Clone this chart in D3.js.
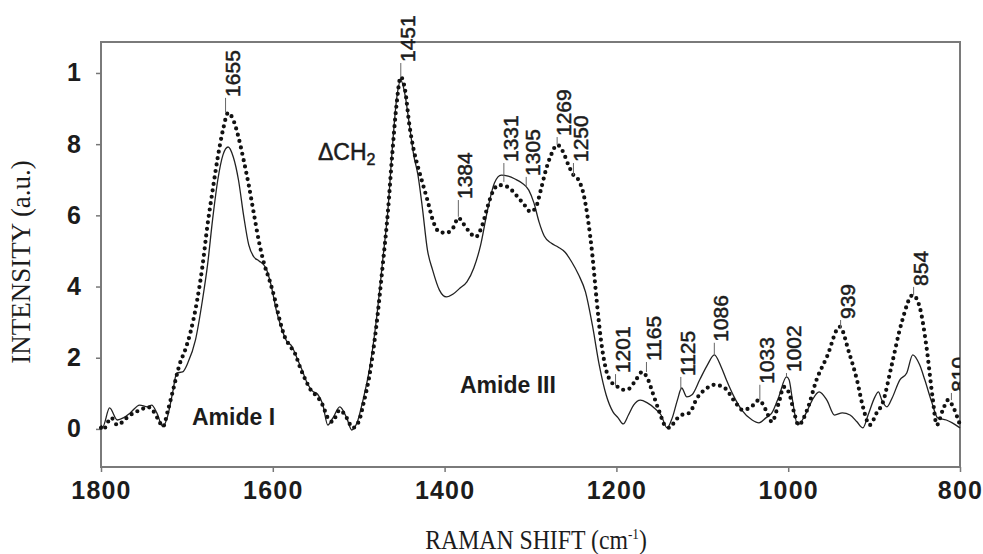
<!DOCTYPE html>
<html>
<head>
<meta charset="utf-8">
<script src="https://cdn.jsdelivr.net/npm/d3@7"></script>
<style>
  html, body { margin: 0; padding: 0; background: #fff; }
  svg { display: block; }
  .axis text { font-family: 'Liberation Sans', Arial, sans-serif; font-weight: bold; font-size: 25px; fill: #1c1c1c; letter-spacing: 1.2px; }
  .axis line { stroke: #777; stroke-width: 1.5; }
  .axis path { display: none; }
  .peak { font-family: 'Liberation Sans', Arial, sans-serif; font-size: 21px; fill: #1c1c1c; stroke: #1c1c1c; stroke-width: 0.5px; }
  .band { font-family: 'Liberation Sans', Arial, sans-serif; font-weight: bold; font-size: 23px; fill: #1c1c1c; }
  .title { font-family: 'Liberation Serif', 'Times New Roman', serif; font-size: 27px; fill: #1c1c1c; }
</style>
</head>
<body>
<svg id="chart" width="983" height="554"></svg>
<script>
// solid trace
const solidShift = [1800, 1798, 1790, 1781, 1774, 1766, 1755, 1746, 1741, 1735, 1728, 1723, 1716, 1712, 1705, 1699, 1690, 1682, 1676, 1670, 1664, 1658, 1652, 1646, 1640, 1634, 1628, 1622, 1616, 1608, 1602, 1596, 1590, 1584, 1578, 1572, 1566, 1560, 1554, 1548, 1542, 1536, 1530, 1522, 1514, 1508, 1502, 1495, 1487, 1479, 1472, 1466, 1461, 1456, 1451, 1446, 1441, 1436, 1431, 1426, 1420, 1414, 1406, 1398, 1390, 1382, 1374, 1366, 1358, 1350, 1342, 1334, 1326, 1318, 1310, 1302, 1296, 1290, 1284, 1276, 1268, 1260, 1252, 1244, 1236, 1228, 1220, 1212, 1204, 1198, 1192, 1186, 1180, 1172, 1164, 1156, 1148, 1141, 1135, 1129, 1124, 1118, 1112, 1103, 1094, 1086, 1078, 1072, 1063, 1054, 1042, 1034, 1026, 1019, 1011, 1002, 999, 995, 989, 979, 972, 964, 955, 946, 937, 928, 920, 913, 907, 899, 895, 891, 885, 879, 870, 862, 855, 847, 841, 833, 826, 816, 809, 800]
const solidValue = [0.11, 0.06, 0.59, 0.25, 0.31, 0.45, 0.67, 0.62, 0.67, 0.45, 0.06, 0.31, 1.10, 1.57, 1.60, 1.85, 2.50, 3.60, 4.60, 5.90, 7.00, 7.70, 7.92, 7.64, 7.00, 6.00, 5.17, 4.83, 4.72, 4.52, 4.04, 3.34, 2.84, 2.47, 2.33, 2.00, 1.66, 1.29, 1.07, 0.98, 0.70, 0.11, 0.31, 0.62, 0.31, -0.03, 0.17, 0.81, 1.74, 3.15, 4.75, 6.15, 7.84, 9.24, 9.80, 9.38, 8.54, 7.70, 7.13, 6.24, 5.03, 4.47, 3.90, 3.71, 3.79, 3.96, 4.13, 4.52, 5.17, 6.15, 6.91, 7.13, 7.10, 7.02, 6.91, 6.71, 6.35, 5.81, 5.42, 5.22, 5.11, 4.97, 4.69, 4.33, 3.85, 2.92, 1.80, 0.96, 0.48, 0.31, 0.14, 0.39, 0.67, 0.81, 0.73, 0.59, 0.39, 0.03, 0.31, 0.81, 1.15, 0.90, 0.96, 1.38, 1.80, 2.08, 1.74, 1.38, 0.90, 0.53, 0.25, 0.17, 0.31, 0.45, 0.90, 1.46, 1.38, 0.81, 0.11, 0.45, 0.81, 1.04, 0.81, 0.39, 0.45, 0.39, 0.20, 0.03, 0.39, 0.90, 1.04, 0.81, 0.62, 0.87, 1.38, 1.57, 2.08, 1.80, 1.38, 0.76, 0.31, 0.25, 0.17, 0.03]

// dotted trace
const dottedShift = [1800, 1798, 1788, 1781, 1770, 1762, 1754, 1746, 1740, 1733, 1728, 1722, 1716, 1708, 1702, 1696, 1688, 1682, 1676, 1670, 1664, 1658, 1652, 1646, 1640, 1634, 1628, 1622, 1616, 1610, 1604, 1598, 1592, 1586, 1580, 1574, 1568, 1562, 1556, 1548, 1542, 1536, 1531, 1522, 1514, 1507, 1500, 1494, 1488, 1480, 1472, 1466, 1461, 1456, 1451, 1446, 1441, 1436, 1431, 1425, 1420, 1413, 1406, 1398, 1390, 1384, 1378, 1371, 1364, 1356, 1350, 1344, 1337, 1330, 1322, 1315, 1307, 1300, 1294, 1288, 1282, 1276, 1269, 1262, 1256, 1250, 1244, 1238, 1233, 1228, 1223, 1218, 1212, 1206, 1200, 1193, 1186, 1178, 1170, 1164, 1157, 1150, 1143, 1138, 1131, 1124, 1115, 1106, 1096, 1086, 1074, 1062, 1053, 1043, 1034, 1026, 1019, 1011, 1005, 999, 993, 988, 978, 967, 955, 940, 929, 920, 913, 905, 897, 890, 880, 868, 855, 847, 839, 832, 827, 820, 814, 808, 802, 800]
const dottedValue = [0.03, -0.03, 0.31, 0.11, 0.31, 0.45, 0.53, 0.62, 0.53, 0.25, 0.06, 0.53, 1.10, 1.85, 2.22, 2.70, 3.62, 4.55, 5.73, 6.71, 7.64, 8.40, 8.88, 8.68, 8.20, 7.56, 6.85, 6.04, 5.25, 4.63, 4.19, 3.68, 3.06, 2.58, 2.33, 2.11, 1.71, 1.38, 1.10, 0.90, 0.67, 0.31, 0.20, 0.53, 0.31, 0.03, 0.20, 0.76, 1.43, 2.78, 4.61, 6.10, 7.70, 9.10, 9.89, 9.52, 8.54, 7.84, 7.36, 6.85, 6.43, 5.81, 5.53, 5.51, 5.65, 5.93, 5.76, 5.53, 5.39, 5.73, 6.24, 6.66, 6.85, 6.83, 6.71, 6.52, 6.29, 6.10, 6.21, 6.71, 7.28, 7.70, 7.98, 7.78, 7.42, 7.13, 6.99, 6.57, 5.87, 4.89, 3.62, 2.50, 1.66, 1.32, 1.21, 1.10, 1.12, 1.35, 1.60, 1.43, 0.96, 0.48, 0.08, 0.03, 0.25, 0.39, 0.45, 0.87, 1.12, 1.24, 1.15, 0.76, 0.53, 0.62, 0.81, 0.53, 0.20, 0.73, 1.18, 1.01, 0.45, 0.11, 0.53, 1.38, 2.02, 2.87, 2.13, 1.38, 0.62, 0.11, 0.45, 0.73, 1.74, 2.98, 3.76, 3.43, 2.30, 0.90, 0.11, 0.53, 0.81, 0.62, 0.25, 0.11]

// peak labels: shift, where the leader starts, where the text starts
const peakShift = [1655, 1451, 1384, 1331, 1305, 1269, 1250, 1201, 1165, 1125, 1086, 1033, 1002, 939, 854, 810]
const peakFrom = [8.90, 9.89, 5.96, 6.94, 6.80, 7.98, 7.13, 1.21, 1.60, 1.10, 2.08, 0.81, 1.43, 2.84, 3.76, 0.81]
const peakTo = [9.30, 10.28, 6.43, 7.47, 7.08, 8.20, 7.47, 1.54, 1.88, 1.46, 2.42, 1.24, 1.57, 3.06, 3.99, 1.01]

const xTicks = [1800, 1600, 1400, 1200, 1000, 800]
const yTicks = [0, 2, 4, 6, 8, 10]
const yTickLabels = ['0', '2', '4', '6', '8', '1']

const svg = d3.select('#chart')

const x = d3.scaleLinear().domain([1800, 800]).range([101, 960])
const y = d3.scaleLinear().domain([-1.07, 10.87]).range([467, 42])

const [x0, x1] = x.range()
const [y0, y1] = y.range()

svg.append('defs').append('clipPath')
  .attr('id', 'clip-right')
  .append('rect')
  .attr('x', 0).attr('y', 0)
  .attr('width', x1).attr('height', 554)

// frame
svg.append('rect')
  .attr('x', x0).attr('y', y1)
  .attr('width', x1 - x0).attr('height', y0 - y1)
  .attr('fill', 'none')
  .attr('stroke', '#7a7a7a')
  .attr('stroke-width', 2)

svg.append('g')
  .attr('class', 'axis')
  .attr('transform', `translate(0,${y0})`)
  .call(d3.axisBottom(x).tickValues(xTicks).tickSize(5).tickPadding(9).tickFormat(d3.format('d')))

svg.append('g')
  .attr('class', 'axis')
  .attr('transform', `translate(${x0},0)`)
  .call(d3.axisLeft(y).tickValues(yTicks).tickSize(5).tickPadding(14).tickFormat((d, i) => yTickLabels[i]))

const line = d3.line()
  .x(d => x(d[0]))
  .y(d => y(d[1]))
  .curve(d3.curveMonotoneX)

svg.append('path')
  .datum(d3.zip(solidShift, solidValue))
  .attr('d', line)
  .attr('fill', 'none')
  .attr('stroke', '#222')
  .attr('stroke-width', 1.3)

svg.append('path')
  .datum(d3.zip(dottedShift, dottedValue))
  .attr('d', line)
  .attr('fill', 'none')
  .attr('stroke', '#111')
  .attr('stroke-width', 4.2)
  .attr('stroke-linecap', 'round')
  .attr('stroke-dasharray', '0 6.5')

// peak labels
const peaks = svg.append('g').attr('clip-path', 'url(#clip-right)')

peakShift.forEach((s, i) => {
  peaks.append('line')
    .attr('x1', x(s)).attr('x2', x(s))
    .attr('y1', y(peakFrom[i])).attr('y2', y(peakTo[i]))
    .attr('stroke', '#666')
    .attr('stroke-width', 1)

  peaks.append('text')
    .attr('class', 'peak')
    .attr('transform', `translate(${x(s) - 1},${y(peakTo[i]) - 1}) rotate(-90)`)
    .attr('dy', '0.72em')
    .text(s)
})

svg.append('text')
  .attr('class', 'band')
  .attr('x', 192).attr('y', 425)
  .text('Amide I')

svg.append('text')
  .attr('class', 'band')
  .attr('x', 460).attr('y', 393)
  .text('Amide III')

const ch = svg.append('text')
  .attr('class', 'peak')
  .attr('x', 318).attr('y', 160)
  .style('font-size', '23px')
ch.append('tspan').text('ΔCH')
ch.append('tspan').attr('dy', 5).style('font-size', '16px').text('2')

svg.append('text')
  .attr('class', 'title')
  .attr('transform', 'translate(30,262) rotate(-90)')
  .attr('text-anchor', 'middle')
  .text('INTENSITY (a.u.)')

const xt = svg.append('text')
  .attr('class', 'title')
  .attr('transform', 'translate(536,549) scale(0.88,1)')
  .attr('text-anchor', 'middle')
xt.append('tspan').text('RAMAN SHIFT (cm')
xt.append('tspan').attr('dy', -10).style('font-size', '15px').text('-1')
xt.append('tspan').attr('dy', 10).text(')')
</script>
</body>
</html>
